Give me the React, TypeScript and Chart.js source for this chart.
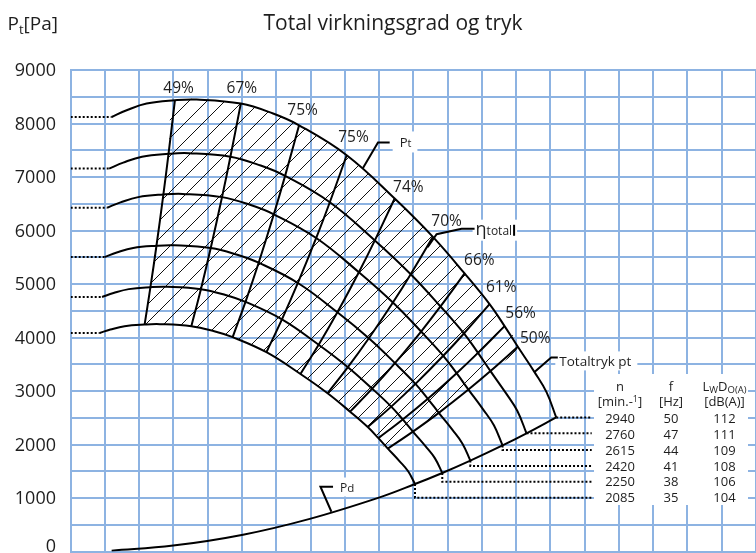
import React, { useEffect, useRef } from 'react';
import { Chart, registerables } from 'chart.js';

Chart.register(...registerables);

// ---------------- data ----------------
const SPEED_RPM = [2940, 2760, 2615, 2420, 2250, 2085];
const FREQ_HZ = [50, 47, 44, 41, 38, 35];
const LWDO_DBA = [112, 111, 109, 108, 106, 104];

// flow (grid units along the unlabeled x axis) and total pressure [Pa] per speed curve
const Q_2940 = [1.195, 1.633, 2.216, 3.041, 3.673, 4.965, 5.907, 6.665, 8.055, 9.455, 10.571, 11.496, 12.224, 12.662, 13.05, 13.536, 13.886, 14.169];
const P_2940 = [8122, 8248, 8373, 8434, 8448, 8373, 8186, 7967, 7407, 6598, 5881, 5197, 4624, 4213, 3826, 3353, 2980, 2507];

const Q_2760 = [1.122, 1.533, 2.080, 2.855, 3.448, 4.661, 5.545, 6.257, 7.562, 8.876, 9.924, 10.792, 11.476, 11.887, 12.251, 12.707, 13.036, 13.302];
const P_2760 = [7158, 7269, 7379, 7433, 7445, 7379, 7214, 7021, 6528, 5815, 5183, 4580, 4075, 3713, 3372, 2955, 2626, 2209];

const Q_2615 = [1.063, 1.453, 1.971, 2.705, 3.267, 4.416, 5.254, 5.928, 7.165, 8.410, 9.403, 10.225, 10.873, 11.262, 11.608, 12.040, 12.351, 12.603];
const P_2615 = [6426, 6525, 6624, 6673, 6684, 6624, 6476, 6303, 5860, 5220, 4653, 4112, 3658, 3333, 3027, 2653, 2358, 1983];

const Q_2420 = [0.984, 1.344, 1.824, 2.503, 3.023, 4.087, 4.862, 5.486, 6.630, 7.783, 8.701, 9.463, 10.062, 10.423, 10.742, 11.142, 11.430, 11.663];
const P_2420 = [5503, 5588, 5673, 5715, 5724, 5673, 5546, 5398, 5019, 4471, 3985, 3521, 3133, 2855, 2592, 2272, 2019, 1699];

const Q_2250 = [0.915, 1.250, 1.696, 2.327, 2.811, 3.800, 4.521, 5.101, 6.165, 7.236, 8.090, 8.798, 9.355, 9.690, 9.987, 10.359, 10.627, 10.844];
const P_2250 = [4757, 4831, 4904, 4940, 4948, 4904, 4795, 4666, 4338, 3864, 3445, 3044, 2708, 2468, 2241, 1964, 1745, 1468];

const Q_2085 = [0.848, 1.158, 1.572, 2.157, 2.605, 3.521, 4.189, 4.727, 5.712, 6.705, 7.497, 8.153, 8.669, 8.980, 9.255, 9.600, 9.848, 10.048];
const P_2085 = [4085, 4148, 4211, 4242, 4249, 4211, 4117, 4007, 3725, 3318, 2958, 2614, 2326, 2119, 1924, 1686, 1499, 1261];

const CURVES_Q = [Q_2940, Q_2760, Q_2615, Q_2420, Q_2250, Q_2085];
const CURVES_P = [P_2940, P_2760, P_2615, P_2420, P_2250, P_2085];

// efficiency lines: which point of each speed curve they pass through
const EFF_LABELS = ['49%', '67%', '75%', '75%', '74%', '70%', '66%', '61%', '56%', '50%'];
const EFF_INDEX = [3, 5, 7, 8, 9, 10, 11, 12, 13, 14];

// dynamic pressure curve
const PD_Q = [1.195, 2.99, 5.03, 6.977, 9.017, 10.048, 10.844, 11.663, 12.603, 13.302, 14.169];
const PD_P = [16, 110, 314, 610, 1012, 1261, 1468, 1699, 1983, 2209, 2507];

const Y_TICK_VALUES = [0, 1000, 2000, 3000, 4000, 5000, 6000, 7000, 8000, 9000];

const TITLE = 'Total virkningsgrad og tryk';

// ---------------- styling / layout ----------------
const FONT = "'Open Sans', 'Noto Sans', sans-serif";
const TEXT = '#1e1e1e';
const GRID = '#8db3e2';
const W = 757;
const H = 553;

const EFF_LABEL_OFFSET = [[3.7, -12.5], [1, -15.8], [3.5, -16], [6.8, -19], [13.7, -12.3], [13.7, -16.7], [14.7, -14.3], [11.7, -18], [16, -13.5], [17.4, -9.2]];

// leader lines for annotations (data units)
const LEAD_PT = [[8.53, 7170], [8.968, 7644], [9.309, 7644]];
const LEAD_ETA = [[10.417, 5688], [10.679, 5931], [11.408, 6034], [11.787, 6034]];
const LEAD_TOT = [[13.536, 3353], [14.023, 3628], [14.216, 3628]];
const LEAD_PD = [[7.609, 743], [7.289, 1211], [7.656, 1211]];

type Run = { t: string; size: number; dy?: number };

function runsWidth(ctx: CanvasRenderingContext2D, runs: Run[]) {
  let w = 0;
  for (const r of runs) {
    ctx.font = `${r.size}px ${FONT}`;
    w += ctx.measureText(r.t).width;
  }
  return w;
}

function drawRuns(ctx: CanvasRenderingContext2D, runs: Run[], x: number, baseline: number, align: string) {
  const w = runsWidth(ctx, runs);
  let cx = align === 'left' ? x : align === 'center' ? x - w / 2 : x - w;
  ctx.textAlign = 'left';
  ctx.textBaseline = 'alphabetic';
  for (const r of runs) {
    ctx.font = `${r.size}px ${FONT}`;
    ctx.fillText(r.t, cx, baseline + (r.dy || 0));
    cx += ctx.measureText(r.t).width;
  }
  return w;
}

const hatchPlugin = {
  id: 'hatchRegion',
  beforeDatasetsDraw(chart: any) {
    const meta = chart.getDatasetMeta(0);
    const line: any = meta.dataset;
    const pts: any[] = meta.data;
    if (!pts || !pts.length) return;
    const a = chart.chartArea;
    if (line && line.updateControlPoints) line.updateControlPoints(a, 'x');
    const ctx: CanvasRenderingContext2D = chart.ctx;
    ctx.save();
    ctx.beginPath();
    pts.forEach((p, i) => {
      if (i === 0) ctx.moveTo(p.x, p.y);
      else {
        const q = pts[i - 1];
        if (q.cp2x !== undefined && p.cp1x !== undefined) ctx.bezierCurveTo(q.cp2x, q.cp2y, p.cp1x, p.cp1y, p.x, p.y);
        else ctx.lineTo(p.x, p.y);
      }
    });
    ctx.closePath();
    ctx.clip();
    ctx.strokeStyle = '#111';
    ctx.lineWidth = 1;
    ctx.beginPath();
    const step = 18;
    const c0 = 308;
    const cMin = a.left + a.top;
    const cMax = a.right + a.bottom;
    let c = c0 - Math.ceil((c0 - cMin) / step) * step;
    for (; c <= cMax; c += step) {
      ctx.moveTo(c - a.top, a.top);
      ctx.lineTo(c - a.bottom, a.bottom);
    }
    ctx.stroke();
    ctx.restore();
  },
};

const annotationPlugin = {
  id: 'annotations',
  afterDraw(chart: any) {
    const ctx: CanvasRenderingContext2D = chart.ctx;
    const xs = chart.scales.x;
    const ys = chart.scales.y;
    const X = (v: number) => xs.getPixelForValue(v);
    const Y = (v: number) => ys.getPixelForValue(v);
    ctx.save();
    ctx.fillStyle = TEXT;

    // y tick labels
    for (const v of Y_TICK_VALUES) {
      const cy = Y(v);
      const base = Math.min(cy + 18 * 0.357, 551.5);
      drawRuns(ctx, [{ t: String(v), size: 18 }], 56, base, 'right');
    }

    // title and axis label
    drawRuns(ctx, [{ t: TITLE, size: 21 }], 393, 30, 'center');
    drawRuns(ctx, [{ t: 'P', size: 19 }, { t: 't', size: 13, dy: 3.5 }, { t: '[Pa]', size: 19 }], 7.5, 30, 'left');

    // efficiency labels
    EFF_INDEX.forEach((idx, k) => {
      const px = X(CURVES_Q[0][idx]);
      const py = Y(CURVES_P[0][idx]);
      const [dx, dy] = EFF_LABEL_OFFSET[k];
      drawRuns(ctx, [{ t: EFF_LABELS[k], size: 15.5 }], px + dx, py + dy + 15.5 * 0.357, 'center');
    });

    // dotted connectors from curve ends to the table rows
    const rowCenter = (i: number) => 418.2 + 15.9 * i;
    ctx.strokeStyle = '#000';
    ctx.lineWidth = 2;
    ctx.setLineDash([2, 2]);
    SPEED_RPM.forEach((_, i) => {
      const q = CURVES_Q[i];
      const p = CURVES_P[i];
      const ex = X(q[q.length - 1]);
      const ey = Y(p[p.length - 1]);
      const ry = rowCenter(i);
      ctx.beginPath();
      ctx.moveTo(ex, ey);
      if (Math.abs(ry - ey) > 1.5) ctx.lineTo(ex, ry);
      else ctx.lineTo(ex, ey);
      ctx.lineTo(591.7, Math.abs(ry - ey) > 1.5 ? ry : ey);
      ctx.stroke();
    });
    ctx.setLineDash([]);

    // label helper: white box + leader + text
    const labelSpec = [
      { lead: LEAD_PT, gap: 10, dyc: -0.6, runs: [{ t: 'P', size: 13 }, { t: 't', size: 11 }] as Run[], padL: 7, padR: 6, h: 21, bar: false },
      { lead: LEAD_ETA, gap: 1, dyc: 1.5, runs: [{ t: 'η', size: 18 }, { t: 'total', size: 12 }] as Run[], padL: 3, padR: 5, h: 21, bar: true },
      { lead: LEAD_TOT, gap: 1.5, dyc: 3.5, runs: [{ t: 'Totaltryk pt', size: 13.5 }] as Run[], padL: 4, padR: 6, h: 19, bar: false },
      { lead: LEAD_PD, gap: 7, dyc: 0.3, runs: [{ t: 'P', size: 12 }, { t: 'd', size: 11.5 }] as Run[], padL: 4, padR: 4, h: 19, bar: false },
    ];
    for (const s of labelSpec) {
      const last = s.lead[s.lead.length - 1];
      const lx = X(last[0]) + s.gap;
      const cy = Y(last[1]) + s.dyc;
      const w = runsWidth(ctx, s.runs);
      ctx.fillStyle = '#fff';
      ctx.fillRect(lx - s.padL, cy - s.h / 2, w + s.padL + s.padR, s.h);
      ctx.strokeStyle = '#000';
      ctx.lineWidth = 2;
      ctx.beginPath();
      s.lead.forEach((pt, i) => {
        const x = X(pt[0]);
        const y = Y(pt[1]);
        if (i === 0) ctx.moveTo(x, y);
        else ctx.lineTo(x, y);
      });
      ctx.stroke();
      ctx.fillStyle = TEXT;
      const base = cy + 4.6;
      drawRuns(ctx, s.runs, lx, base, 'left');
      if (s.bar) {
        ctx.fillStyle = '#000';
        ctx.fillRect(lx + w + 1, base - 10, 2, 11);
        ctx.fillStyle = TEXT;
      }
    }

    // table
    ctx.fillStyle = '#fff';
    ctx.fillRect(594, 374, 154, 131);
    ctx.fillStyle = TEXT;
    const colX = [620, 671, 724.5];
    drawRuns(ctx, [{ t: 'n', size: 13 }], colX[0], 390.7, 'center');
    drawRuns(ctx, [{ t: 'f', size: 13 }], colX[1], 390.7, 'center');
    drawRuns(ctx, [{ t: 'L', size: 13 }, { t: 'W', size: 9.5, dy: 2.6 }, { t: 'D', size: 13 }, { t: 'O(A)', size: 9.5, dy: 2.6 }], colX[2], 390.7, 'center');
    drawRuns(ctx, [{ t: '[min.-', size: 13 }, { t: '1', size: 9, dy: -4 }, { t: ']', size: 13 }], colX[0], 405.7, 'center');
    drawRuns(ctx, [{ t: '[Hz]', size: 13 }], colX[1], 405.7, 'center');
    drawRuns(ctx, [{ t: '[dB(A)]', size: 13 }], colX[2], 405.7, 'center');
    SPEED_RPM.forEach((n, i) => {
      const b = rowCenter(i) + 4.6;
      drawRuns(ctx, [{ t: String(n), size: 13 }], colX[0], b, 'center');
      drawRuns(ctx, [{ t: String(FREQ_HZ[i]), size: 13 }], colX[1], b, 'center');
      drawRuns(ctx, [{ t: String(LWDO_DBA[i]), size: 13 }], colX[2], b, 'center');
    });

    ctx.restore();
  },
};

function buildDatasets() {
  const ds: any[] = [];
  // 0: hatched operating region (boundary only, drawn by plugin)
  const hatch: any[] = [];
  for (let i = EFF_INDEX[0]; i <= EFF_INDEX[EFF_INDEX.length - 1]; i++) hatch.push({ x: Q_2085[i], y: P_2085[i] });
  const iR = EFF_INDEX[EFF_INDEX.length - 1];
  const iL = EFF_INDEX[0];
  for (let c = 4; c >= 0; c--) hatch.push({ x: CURVES_Q[c][iR], y: CURVES_P[c][iR] });
  for (let i = iR - 1; i >= iL; i--) hatch.push({ x: Q_2940[i], y: P_2940[i] });
  for (let c = 1; c <= 5; c++) hatch.push({ x: CURVES_Q[c][iL], y: CURVES_P[c][iL] });
  ds.push({ data: hatch, borderWidth: 0, pointRadius: 0, tension: 0.4, fill: false, borderColor: 'rgba(0,0,0,0)' });

  // speed curves
  CURVES_Q.forEach((q, c) => {
    const p = CURVES_P[c];
    ds.push({ data: q.map((x, i) => ({ x, y: p[i] })), borderColor: '#000', borderWidth: 2, pointRadius: 0, tension: 0.4, fill: false });
    ds.push({ data: [{ x: 0, y: p[0] }, { x: q[0], y: p[0] }], borderColor: '#000', borderWidth: 2, borderDash: [2, 2], pointRadius: 0, tension: 0, fill: false });
  });

  // efficiency lines
  EFF_INDEX.forEach((idx) => {
    ds.push({ data: CURVES_Q.map((q, c) => ({ x: q[idx], y: CURVES_P[c][idx] })), borderColor: '#000', borderWidth: 2, pointRadius: 0, tension: 0.4, fill: false });
  });

  // dynamic pressure
  ds.push({ data: PD_Q.map((x, i) => ({ x, y: PD_P[i] })), borderColor: '#000', borderWidth: 2, pointRadius: 0, tension: 0.4, fill: false });
  return ds;
}

export default function App() {
  const ref = useRef<HTMLCanvasElement>(null);
  useEffect(() => {
    const canvas = ref.current;
    if (!canvas) return;
    const chart = new Chart(canvas, {
      type: 'line',
      data: { datasets: buildDatasets() },
      options: {
        responsive: false,
        maintainAspectRatio: false,
        devicePixelRatio: 1,
        animation: false,
        events: [],
        layout: { padding: { left: 70.7, top: 70, right: 0, bottom: 1.5 } },
        plugins: { legend: { display: false }, tooltip: { enabled: false }, title: { display: false } },
        scales: {
          x: {
            type: 'linear',
            min: 0,
            max: 20,
            ticks: { display: false, stepSize: 1 },
            grid: { color: GRID, lineWidth: 2, drawTicks: false },
            border: { display: true, color: GRID, width: 2 },
          },
          y: {
            type: 'linear',
            min: 0,
            max: 9000,
            ticks: { display: false, stepSize: 500 },
            grid: { color: GRID, lineWidth: 2, drawTicks: false },
            border: { display: true, color: GRID, width: 2 },
          },
        },
      } as any,
      plugins: [hatchPlugin, annotationPlugin],
    });
    if ((document as any).fonts && (document as any).fonts.load) {
      Promise.all([
        (document as any).fonts.load(`18px 'Open Sans'`),
      ]).then(() => chart.update()).catch(() => {});
    }
    return () => chart.destroy();
  }, []);
  return (
    <div style={{ position: 'fixed', left: 0, top: 0, width: W, height: H, overflow: 'hidden', background: '#fff' }}>
      <canvas ref={ref} width={W} height={H} style={{ display: 'block', width: W, height: H }} />
    </div>
  );
}
